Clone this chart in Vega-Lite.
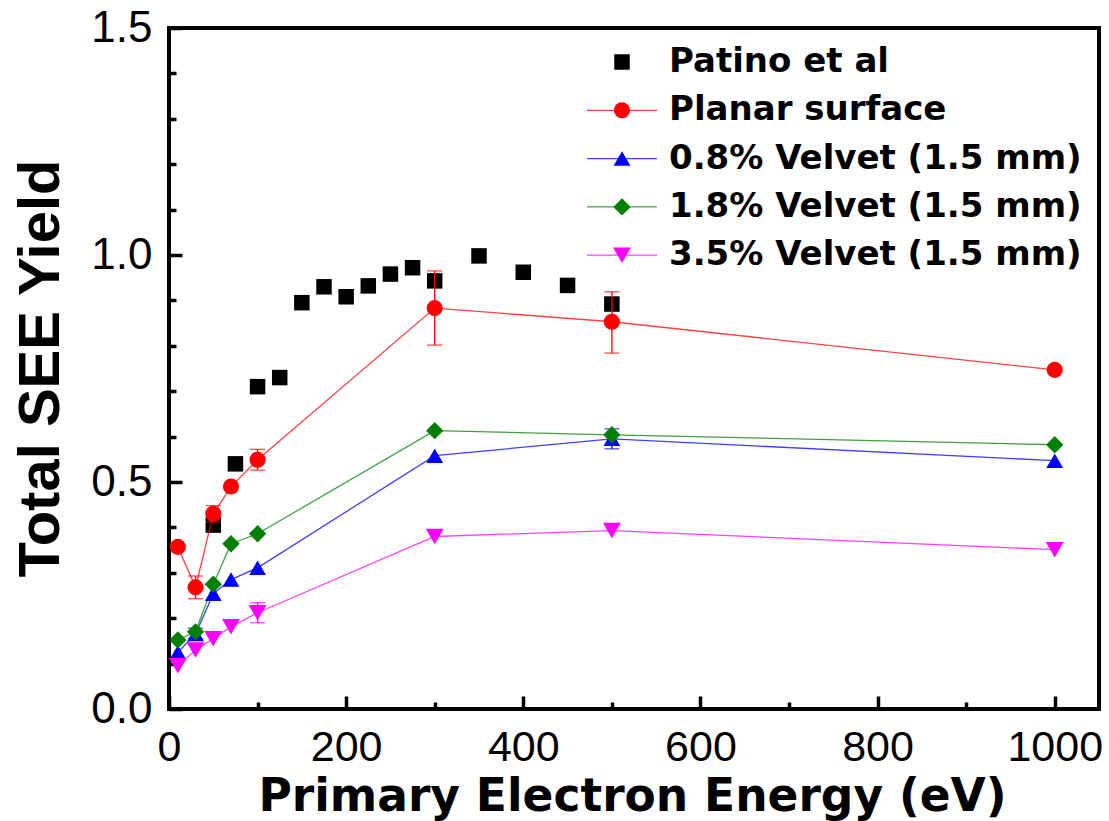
{
  "$schema": "https://vega.github.io/schema/vega-lite/v6.json",
  "width": 930,
  "height": 681,
  "autosize": "none",
  "padding": {"left": 169, "top": 28, "right": 10, "bottom": 112},
  "background": "white",
  "config": {
    "view": {"stroke": "black", "strokeWidth": 4},
    "axis": {"domain": false, "grid": false, "tickColor": "black", "tickWidth": 3.5, "labelFont": "Liberation Sans", "labelFontSize": 44, "labelColor": "black", "titleColor": "black", "labelFlush": false}
  },
  "data": {
    "values": [
      {"series": "Patino et al", "x": 50, "y": 0.405},
      {"series": "Patino et al", "x": 75, "y": 0.54},
      {"series": "Patino et al", "x": 100, "y": 0.71},
      {"series": "Patino et al", "x": 125, "y": 0.73},
      {"series": "Patino et al", "x": 150, "y": 0.895},
      {"series": "Patino et al", "x": 175, "y": 0.93},
      {"series": "Patino et al", "x": 200, "y": 0.908},
      {"series": "Patino et al", "x": 225, "y": 0.932},
      {"series": "Patino et al", "x": 250, "y": 0.958},
      {"series": "Patino et al", "x": 275, "y": 0.972},
      {"series": "Patino et al", "x": 300, "y": 0.943},
      {"series": "Patino et al", "x": 350, "y": 0.998},
      {"series": "Patino et al", "x": 400, "y": 0.962},
      {"series": "Patino et al", "x": 450, "y": 0.933},
      {"series": "Patino et al", "x": 500, "y": 0.892},
      {"series": "Planar surface", "x": 10, "y": 0.357},
      {"series": "Planar surface", "x": 30, "y": 0.268, "lo": 0.243, "hi": 0.293},
      {"series": "Planar surface", "x": 50, "y": 0.43, "lo": 0.412, "hi": 0.448},
      {"series": "Planar surface", "x": 70, "y": 0.49},
      {"series": "Planar surface", "x": 100, "y": 0.549, "lo": 0.526, "hi": 0.572},
      {"series": "Planar surface", "x": 300, "y": 0.883, "lo": 0.8015, "hi": 0.965},
      {"series": "Planar surface", "x": 500, "y": 0.853, "lo": 0.784, "hi": 0.919},
      {"series": "Planar surface", "x": 1000, "y": 0.747},
      {"series": "0.8% Velvet (1.5 mm)", "x": 10, "y": 0.125},
      {"series": "0.8% Velvet (1.5 mm)", "x": 30, "y": 0.165, "lo": 0.155, "hi": 0.178},
      {"series": "0.8% Velvet (1.5 mm)", "x": 50, "y": 0.254},
      {"series": "0.8% Velvet (1.5 mm)", "x": 70, "y": 0.285},
      {"series": "0.8% Velvet (1.5 mm)", "x": 100, "y": 0.311},
      {"series": "0.8% Velvet (1.5 mm)", "x": 300, "y": 0.558},
      {"series": "0.8% Velvet (1.5 mm)", "x": 500, "y": 0.595, "lo": 0.573, "hi": 0.617},
      {"series": "0.8% Velvet (1.5 mm)", "x": 1000, "y": 0.547},
      {"series": "1.8% Velvet (1.5 mm)", "x": 10, "y": 0.152},
      {"series": "1.8% Velvet (1.5 mm)", "x": 30, "y": 0.17},
      {"series": "1.8% Velvet (1.5 mm)", "x": 50, "y": 0.275},
      {"series": "1.8% Velvet (1.5 mm)", "x": 70, "y": 0.364},
      {"series": "1.8% Velvet (1.5 mm)", "x": 100, "y": 0.386},
      {"series": "1.8% Velvet (1.5 mm)", "x": 300, "y": 0.613},
      {"series": "1.8% Velvet (1.5 mm)", "x": 500, "y": 0.604},
      {"series": "1.8% Velvet (1.5 mm)", "x": 1000, "y": 0.582},
      {"series": "3.5% Velvet (1.5 mm)", "x": 10, "y": 0.095},
      {"series": "3.5% Velvet (1.5 mm)", "x": 30, "y": 0.13},
      {"series": "3.5% Velvet (1.5 mm)", "x": 50, "y": 0.155},
      {"series": "3.5% Velvet (1.5 mm)", "x": 70, "y": 0.181},
      {"series": "3.5% Velvet (1.5 mm)", "x": 100, "y": 0.212, "lo": 0.19, "hi": 0.234},
      {"series": "3.5% Velvet (1.5 mm)", "x": 300, "y": 0.38},
      {"series": "3.5% Velvet (1.5 mm)", "x": 500, "y": 0.393},
      {"series": "3.5% Velvet (1.5 mm)", "x": 1000, "y": 0.351}
    ]
  },
  "encoding": {
    "x": {
      "field": "x", "type": "quantitative",
      "scale": {"domain": [0, 1050], "nice": false, "zero": false},
      "axis": {
        "values": [0, 100, 200, 300, 400, 500, 600, 700, 800, 900, 1000],
        "format": "d",
        "labelExpr": "datum.value % 200 == 0 ? datum.label : ''",
        "tickSize": {"condition": {"test": "datum.value % 200 == 0", "value": -13}, "value": -7},
        "labelPadding": 30,
        "labelFontSize": 43,
        "title": "Primary Electron Energy (eV)",
        "titleFont": "DejaVu Sans", "titleFontWeight": "bold", "titleFontSize": 45.5,
        "titleX": 463, "titleY": 101, "titleBaseline": "alphabetic", "titleAlign": "center"
      }
    },
    "y": {
      "field": "y", "type": "quantitative",
      "scale": {"domain": [0, 1.5], "nice": false, "zero": false},
      "axis": {
        "values": [0, 0.1, 0.2, 0.3, 0.4, 0.5, 0.6, 0.7, 0.8, 0.9, 1.0, 1.1, 1.2, 1.3, 1.4, 1.5],
        "format": ".1f",
        "labelExpr": "abs(datum.value*2 - round(datum.value*2)) < 0.001 ? datum.label : ''",
        "tickSize": {"condition": {"test": "abs(datum.value*2 - round(datum.value*2)) < 0.001", "value": -13}, "value": -7},
        "labelPadding": 30,
        "title": "Total SEE Yield",
        "titleFont": "Liberation Sans", "titleFontWeight": "bold", "titleFontSize": 58,
        "titleAngle": -90, "titleX": -111, "titleY": 340, "titleBaseline": "alphabetic", "titleAlign": "center"
      }
    }
  },
  "layer": [
    {
      "transform": [{"filter": "datum.series == 'Patino et al'"}],
      "mark": {"type": "point", "filled": true, "opacity": 1, "strokeWidth": 0},
      "encoding": {
        "fill": {"field": "series", "type": "nominal",
          "scale": {"domain": ["Patino et al", "Planar surface", "0.8% Velvet (1.5 mm)", "1.8% Velvet (1.5 mm)", "3.5% Velvet (1.5 mm)"], "range": ["#000000", "#ff0000", "#0000ff", "#007f00", "#ff00ff"]},
          "legend": {"orient": "none", "legendX": 436, "legendY": 17, "title": null, "padding": 0, "labelFont": "DejaVu Sans", "labelFontWeight": "bold", "labelFontSize": 34, "labelColor": "black", "labelOffset": 30, "rowPadding": 14.3, "labelLimit": 0, "symbolStrokeWidth": 0}},
        "shape": {"field": "series", "type": "nominal",
          "scale": {"domain": ["Patino et al", "Planar surface", "0.8% Velvet (1.5 mm)", "1.8% Velvet (1.5 mm)", "3.5% Velvet (1.5 mm)"], "range": ["square", "circle", "triangle-up", "diamond", "triangle-down"]},
          "legend": {"orient": "none", "legendX": 436, "legendY": 17, "title": null, "padding": 0, "labelFont": "DejaVu Sans", "labelFontWeight": "bold", "labelFontSize": 34, "labelColor": "black", "labelOffset": 30, "rowPadding": 14.3, "labelLimit": 0, "symbolStrokeWidth": 0}},
        "size": {"field": "series", "type": "nominal",
          "scale": {"domain": ["Patino et al", "Planar surface", "0.8% Velvet (1.5 mm)", "1.8% Velvet (1.5 mm)", "3.5% Velvet (1.5 mm)"], "range": [240, 320, 400, 480, 400]},
          "legend": {"orient": "none", "legendX": 436, "legendY": 17, "title": null, "padding": 0, "labelFont": "DejaVu Sans", "labelFontWeight": "bold", "labelFontSize": 34, "labelColor": "black", "labelOffset": 30, "rowPadding": 14.3, "labelLimit": 0, "symbolStrokeWidth": 0}}
      }
    },
    {
      "transform": [{"filter": "datum.series != 'Patino et al'"}],
      "mark": {"type": "line", "strokeWidth": 1.3, "opacity": 0.75},
      "encoding": {
        "stroke": {"field": "series", "type": "nominal",
          "scale": {"domain": ["Planar surface", "0.8% Velvet (1.5 mm)", "1.8% Velvet (1.5 mm)", "3.5% Velvet (1.5 mm)"], "range": ["#ff0000", "#0000ff", "#008000", "#ff00ff"]},
          "legend": {"orient": "none", "legendX": 436, "legendY": 65.3, "title": null, "padding": 0, "symbolType": "M-2.5,0H2.5", "symbolSize": 784, "symbolStrokeWidth": 1.3, "symbolOpacity": 0.75, "symbolFillColor": "transparent", "labelExpr": "''", "labelFontSize": 34, "rowPadding": 14.3, "labelLimit": 0}},
        "order": {"field": "x", "type": "quantitative"}
      }
    },
    {
      "transform": [{"filter": "isValid(datum.lo)"}],
      "mark": {"type": "errorbar", "ticks": {"size": 15, "thickness": 1.3}, "rule": {"strokeWidth": 1.3}},
      "encoding": {
        "y": {"field": "lo", "type": "quantitative"},
        "y2": {"field": "hi"},
        "color": {"field": "series", "type": "nominal",
          "scale": {"domain": ["Planar surface", "0.8% Velvet (1.5 mm)", "1.8% Velvet (1.5 mm)", "3.5% Velvet (1.5 mm)"], "range": ["#ff0000", "#0000ff", "#008000", "#ff00ff"]},
          "legend": null}
      }
    },
    {
      "transform": [{"filter": "datum.series != 'Patino et al'"}],
      "mark": {"type": "point", "filled": true, "opacity": 1, "strokeWidth": 0},
      "encoding": {
        "fill": {"field": "series", "type": "nominal"},
        "shape": {"field": "series", "type": "nominal"},
        "size": {"field": "series", "type": "nominal"}
      }
    }
  ]
}
